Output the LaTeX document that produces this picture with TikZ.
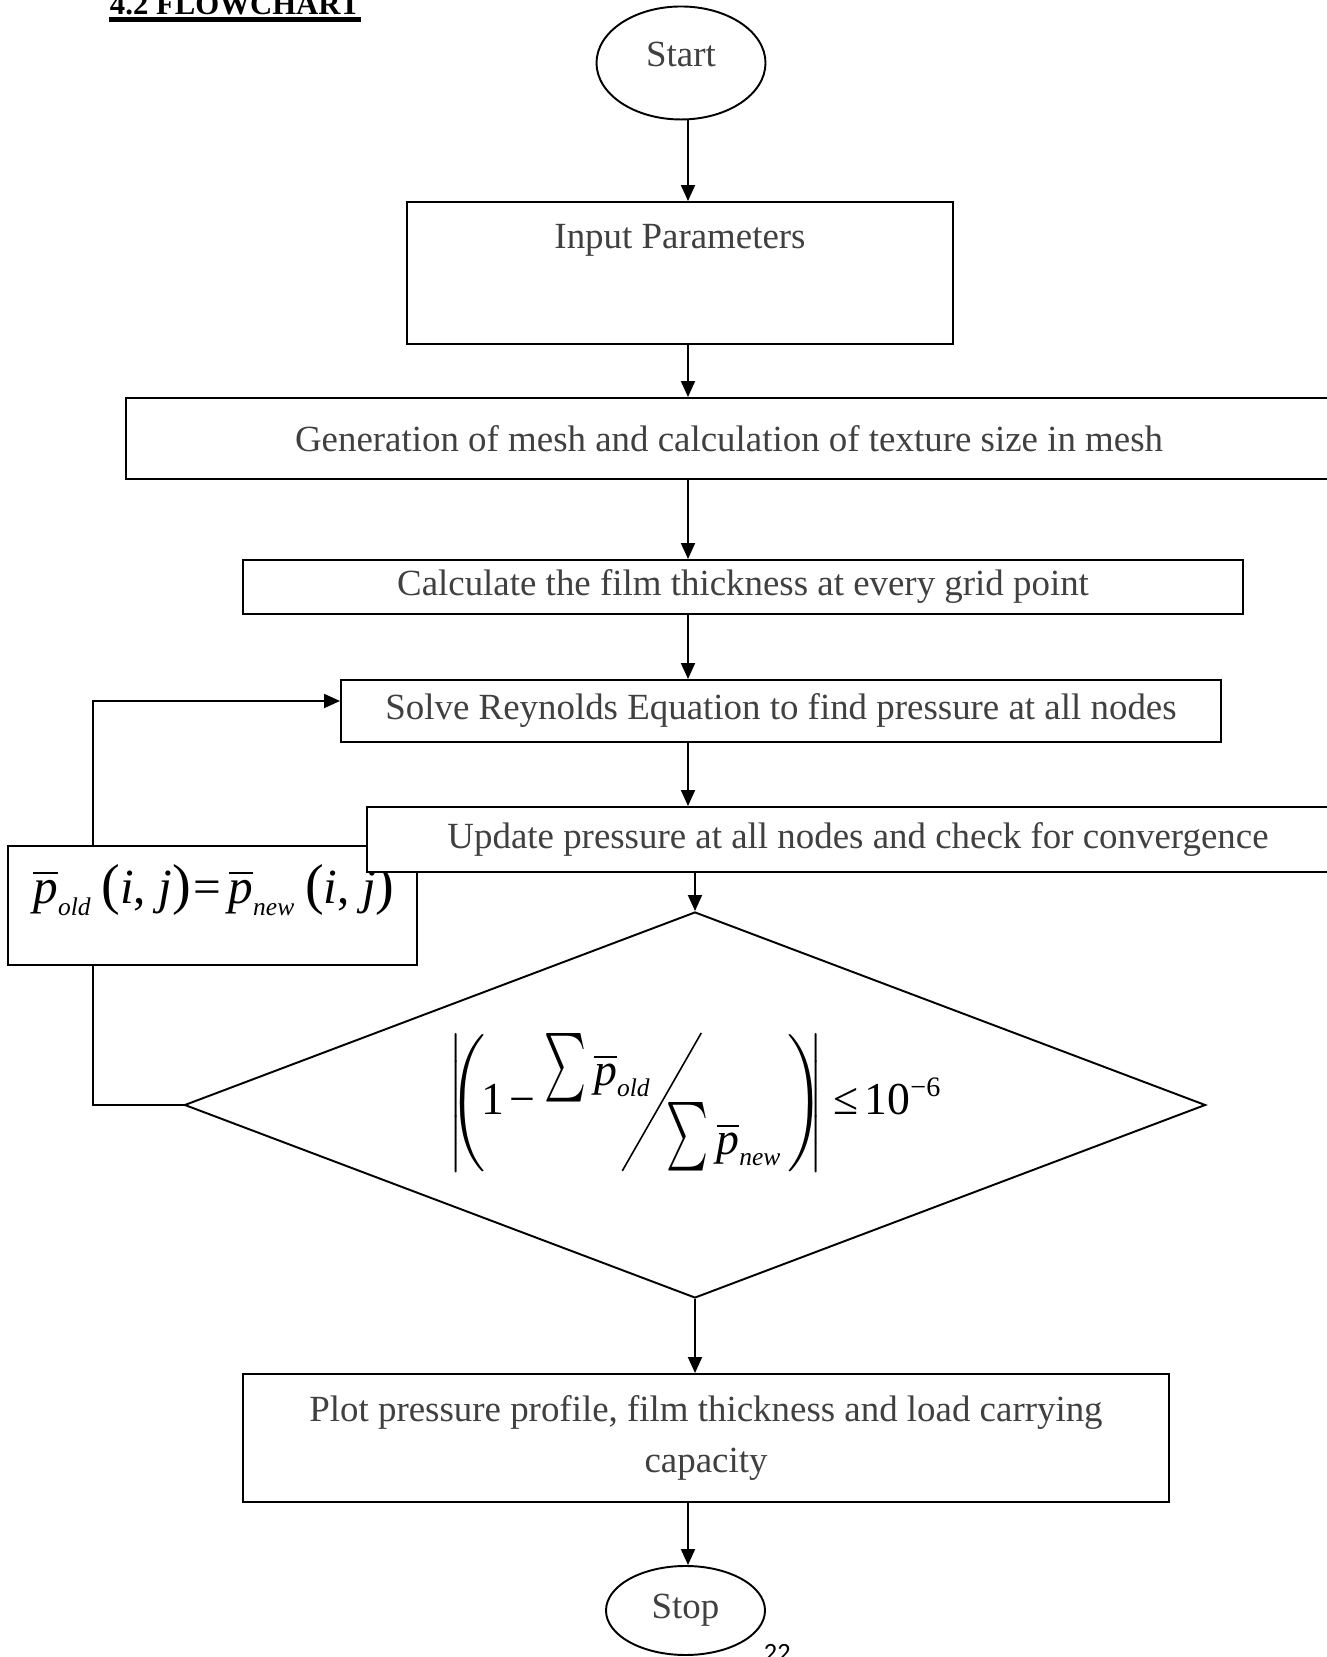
\documentclass[tikz,border=0pt]{standalone}
\RequirePackage{fix-cm}
\usepackage{amsmath,amssymb}
\usepackage{graphicx}
\usepackage{fontspec}
\setmainfont{Liberation Serif}
\newfontfamily\pagefont{Carlito}
\usepackage{xcolor}
\usepackage{tikz}
\usetikzlibrary{arrows.meta,positioning,calc,shapes.geometric}
\definecolor{textgray}{RGB}{64,64,64}

\newcommand{\ti}[1]{\text{\itshape #1}}
\newcommand{\sub}[1]{\text{\fontsize{14.5}{16}\selectfont\itshape #1}}
\newcommand{\pb}{\overline{\ti{p}}}
\newcommand{\tallsum}{\scalebox{0.87}[1.5]{$\textstyle\sum$}}
\newcommand{\gridij}{\text{\fontsize{32}{32}\selectfont(}\ti{i}\text{, }\ti{j}\text{\fontsize{32}{32}\selectfont)}}

\begin{document}
\begin{tikzpicture}[x=1cm,y=1cm,
  line width=1.1pt,
  box/.style={draw, fill=white, rectangle, inner sep=0pt},
  term/.style={draw, ellipse, inner sep=0pt},
  lbl/.style={text=textgray, font=\fontsize{21}{28.5}\selectfont},
  arr/.style={-{Triangle[length=0.32cm,width=0.28cm]}}]

  \useasboundingbox (0,0) rectangle (26.52,33.14);

  \coordinate (spine) at (13.76,0);
  \coordinate (loopx) at (1.86,0);

  \node[anchor=base, inner sep=0pt, font=\fontsize{17.5}{20}\selectfont\bfseries] (title) at (4.70,32.84) {4.2 FLOWCHART};
  \draw[line width=2.6pt] ([yshift=-0.09cm]title.base west) -- ([yshift=-0.09cm]title.base east);

  \node[term, minimum width=3.38cm, minimum height=2.26cm] (start) at (13.62,31.88) {};
  \node[lbl] (starttext) at (13.62,32.05) {Start};

  \node[box, minimum width=10.92cm, minimum height=2.84cm] (inp) at (13.60,27.68) {};
  \node[lbl] (inptext) at ([yshift=-0.78cm]inp.north) {Input Parameters};

  \node[box, lbl, minimum width=24.12cm, minimum height=1.62cm] (mesh) at (14.58,24.37) {Generation of mesh and calculation of texture size in mesh};
  \node[box, lbl, minimum width=20.0cm, minimum height=1.08cm] (film) at (14.86,21.40) {Calculate the film thickness at every grid point};
  \node[box, lbl, minimum width=17.6cm, minimum height=1.24cm] (solve) at (15.62,18.92) {Solve Reynolds Equation to find pressure at all nodes};

  % old pressure replaced by new one
  \node[box, minimum width=8.18cm, minimum height=2.38cm] (reset) at (4.25,15.03) {};
  \node[font=\fontsize{28}{30}\selectfont] (resettext) at (4.28,15.34)
    {$\pb_{\sub{old}}\kern0.2cm\gridij\kern0.05cm\text{=}\kern0.15cm\pb_{\sub{new}}\kern0.2cm\gridij$};

  \node[box, lbl, minimum width=19.64cm, minimum height=1.30cm] (update) at (17.16,16.35) {Update pressure at all nodes and check for convergence};

  % convergence test
  \node[draw, diamond, minimum width=20.42cm, minimum height=7.72cm, inner sep=0pt] (conv) at (13.90,11.04) {};
  \node[font=\fontsize{26}{36}\selectfont] (convtext) at ([yshift=0.06cm]conv.center)
    {$\Biggl|\kern-0.28cm\Biggl(\kern-0.1cm\text{1}\kern0.12cm\text{−}\kern0.18cm
      \raisebox{0.58cm}{$\tallsum\,\pb_{\sub{old}}$}\kern-0.58cm
      \raisebox{-1.14cm}{\rotatebox{60.2}{\rule{3.18cm}{0.9pt}}}\kern-0.7cm
      \raisebox{-0.80cm}{$\tallsum\,\pb_{\sub{new}}$}\kern0.12cm\Biggr)\kern-0.3cm\Biggr|
      \kern0.2cm\text{≤}\kern0.12cm\text{10}^{\text{\fontsize{16}{16}\selectfont −6}}$};

  \node[box, lbl, align=center, minimum width=18.52cm, minimum height=2.56cm] (plot) at (14.12,4.38)
    {Plot pressure profile, film thickness and load carrying\\capacity};

  \node[term, lbl, minimum width=3.18cm, minimum height=1.78cm] (stop) at (13.71,0.93) {Stop};
  \node[anchor=north west, inner sep=0pt, font=\pagefont\fontsize{15}{18}\selectfont] (pgnum) at (15.26,0.28) {22};

  \draw[arr] (start.south -| spine) -- (inp.north -| spine);
  \draw[arr] (inp.south -| spine) -- (mesh.north -| spine);
  \draw[arr] (mesh.south -| spine) -- (film.north -| spine);
  \draw[arr] (film.south -| spine) -- (solve.north -| spine);
  \draw[arr] (solve.south -| spine) -- (update.north -| spine);
  \draw[arr] (update.south -| conv.north) -- (conv.north);
  \draw[arr] (conv.south) -- (plot.north -| conv.south);
  \draw[arr] (plot.south -| spine) -- (stop.north -| spine);

  % loop back
  \draw (conv.west) -| (loopx |- reset.south);
  \draw[arr] (loopx |- reset.north) |- ([yshift=0.2cm]solve.west);
\end{tikzpicture}
\end{document}
